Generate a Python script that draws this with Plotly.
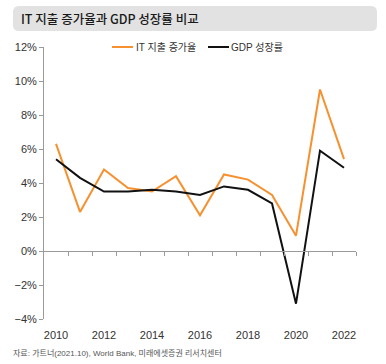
import plotly.graph_objects as go

years = list(range(2010, 2023))
it_spending = [6.3, 2.3, 4.8, 3.7, 3.5, 4.4, 2.1, 4.5, 4.2, 3.3, 0.9, 9.5, 5.4]
gdp_growth = [5.4, 4.3, 3.5, 3.5, 3.6, 3.5, 3.3, 3.8, 3.6, 2.8, -3.1, 5.9, 4.9]
series_names = ["IT 지출 증가율", "GDP 성장률"]
y_ticks = [-4, -2, 0, 2, 4, 6, 8, 10, 12]
y_tick_labels = ["−4%", "−2%", "0%", "2%", "4%", "6%", "8%", "10%", "12%"]
x_ticks = [2010, 2012, 2014, 2016, 2018, 2020, 2022]

ORANGE = "#F7902F"
BLACK = "#111111"
FONT = "Liberation Sans, Noto Sans CJK KR, sans-serif"

W, H = 386, 364
L, R, T, B = 44, 30, 47, 45
PW, PH = W - L - R, H - T - B

def px(x):
    return (x - L) / PW

def py(y):
    return (H - B - y) / PH

fig = go.Figure()
fig.add_trace(go.Scatter(x=years, y=it_spending, mode="lines", name=series_names[0],
                         line=dict(color=ORANGE, width=2), showlegend=False))
fig.add_trace(go.Scatter(x=years, y=gdp_growth, mode="lines", name=series_names[1],
                         line=dict(color=BLACK, width=2), showlegend=False))
# invisible trace for the zero-line tick axis
fig.add_trace(go.Scatter(x=[years[0]], y=[0], xaxis="x2", mode="markers",
                         marker=dict(opacity=0), showlegend=False, hoverinfo="skip"))

# title box with rounded corners
x0, x1, y0, y1, r = px(13), px(377), py(6), py(31), 6 / PW
ry = 6 / PH
path = (f"M {x0 + r},{y0} L {x1 - r},{y0} Q {x1},{y0} {x1},{y0 - ry} "
        f"L {x1},{y1 + ry} Q {x1},{y1} {x1 - r},{y1} L {x0 + r},{y1} "
        f"Q {x0},{y1} {x0},{y1 + ry} L {x0},{y0 - ry} Q {x0},{y0} {x0 + r},{y0} Z")
shapes = [dict(type="path", xref="paper", yref="paper", path=path,
               fillcolor="#E2E2E2", line=dict(width=0), layer="below")]

# legend lines
shapes.append(dict(type="line", xref="paper", yref="paper", x0=px(112), x1=px(133),
                   y0=py(47), y1=py(47), line=dict(color=ORANGE, width=2)))
shapes.append(dict(type="line", xref="paper", yref="paper", x0=px(208), x1=px(229),
                   y0=py(47), y1=py(47), line=dict(color=BLACK, width=2)))

annotations = [
    dict(text="IT 지출 증가율과 GDP 성장률 비교", xref="paper", yref="paper",
         x=px(19), y=py(18.5), xanchor="left", yanchor="middle", showarrow=False,
         font=dict(family="Noto Sans CJK KR", size=12.5, color="#1a1a1a", weight=500)),
    dict(text=series_names[0], xref="paper", yref="paper", x=px(134), y=py(47),
         xanchor="left", yanchor="middle", showarrow=False,
         font=dict(family=FONT, size=10, color="#333")),
    dict(text=series_names[1], xref="paper", yref="paper", x=px(229), y=py(47),
         xanchor="left", yanchor="middle", showarrow=False,
         font=dict(family=FONT, size=10, color="#333")),
    dict(text="자료: 가트너(2021.10), World Bank, 미래에셋증권 리서치센터", xref="paper",
         yref="paper", x=px(11), y=py(353), xanchor="left", yanchor="middle",
         showarrow=False, font=dict(family=FONT, size=8, color="#555")),
]

fig.update_layout(
    width=W, height=H, margin=dict(l=L, r=R, t=T, b=B),
    paper_bgcolor="white", plot_bgcolor="white",
    font=dict(family=FONT, size=11, color="#333"),
    shapes=shapes, annotations=annotations, showlegend=False,
    xaxis=dict(range=[2009.5, 2022.5], tickvals=x_ticks, showgrid=False,
               zeroline=False, showline=False, ticks="outside", ticklen=6,
               tickcolor="rgba(0,0,0,0)", tickfont=dict(size=11, color="#333")),
    xaxis2=dict(range=[2009.5, 2022.5], overlaying="x", anchor="free", position=0.25,
                side="bottom", tickvals=[y + 0.5 for y in years], showticklabels=False,
                showgrid=False, zeroline=False, showline=True, linecolor="#9a9a9a",
                linewidth=1, ticks="outside", ticklen=4, tickcolor="#9a9a9a"),
    yaxis=dict(range=[-4, 12], tickvals=y_ticks, ticktext=y_tick_labels, showgrid=False,
               zeroline=False, showline=True, linecolor="#9a9a9a", linewidth=1,
               ticks="outside", ticklen=4, tickcolor="#9a9a9a",
               tickfont=dict(size=11, color="#333")),
)

fig.write_html("out.html", config={"displayModeBar": False},
               post_script="document.body.style.margin='0';")
